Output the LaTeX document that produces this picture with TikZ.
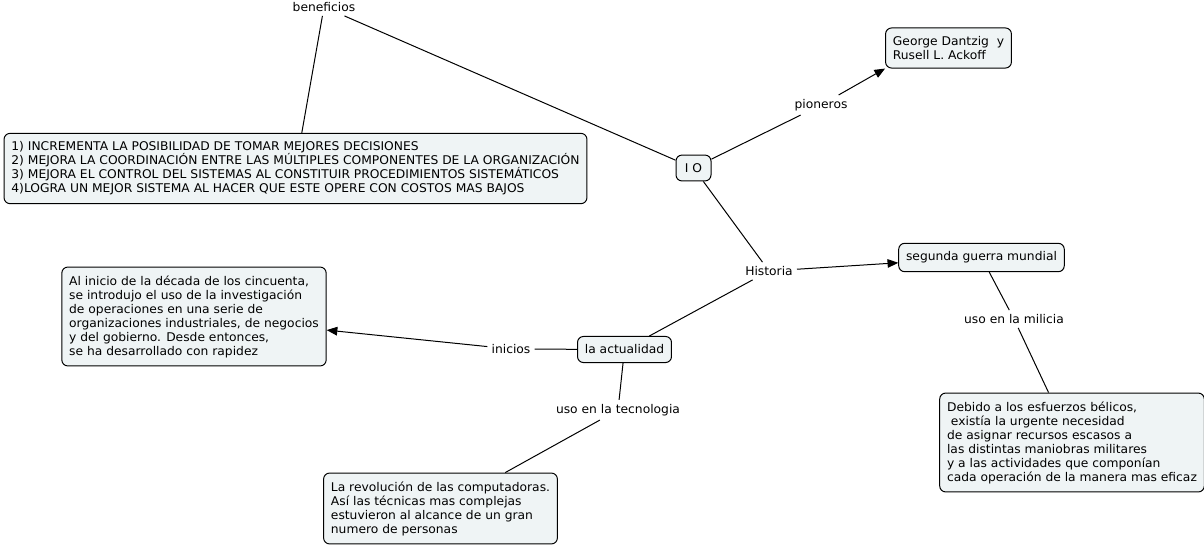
\documentclass[tikz,border=0pt]{standalone}
\usepackage{fontspec}
\setmainfont{DejaVu Sans}[FakeStretch=1.025]
\usetikzlibrary{arrows.meta}
\definecolor{boxfill}{RGB}{239,244,245}
\begin{document}
\begin{tikzpicture}[x=0.75pt,y=-0.75pt,
  every node/.style={font=\fontsize{9pt}{10.5pt}\selectfont},
  cbox/.style={draw=black, line width=0.75pt, fill=boxfill, rounded corners=4.5pt, align=left, inner xsep=5.5pt, inner ysep=6.3pt},
  lbl/.style={inner sep=3pt},
  conn/.style={line width=0.75pt},
  arr/.style={conn, -{Triangle[length=8pt,width=6.5pt]}}]
\fill[white] (0,0) rectangle (1204,547);
\useasboundingbox (0,0) rectangle (1204,547);

\node[lbl] (bene) at (324,7) {beneficios};
\node[cbox] (benbox) at (295.5,168.5) {1) INCREMENTA LA POSIBILIDAD DE TOMAR MEJORES DECISIONES\\2) MEJORA LA COORDINACIÓN ENTRE LAS MÚLTIPLES COMPONENTES DE LA ORGANIZACIÓN\\3) MEJORA EL CONTROL DEL SISTEMAS AL CONSTITUIR PROCEDIMIENTOS SISTEMÁTICOS\\4)LOGRA UN MEJOR SISTEMA AL HACER QUE ESTE OPERE CON COSTOS MAS BAJOS};
\node[cbox, minimum width=26.25pt] (io) at (693.5,168) {I O};
\node[lbl] (pion) at (821,105) {pioneros};
\node[cbox] (george) at (948.5,48) {George Dantzig\ \ y\\Rusell L. Ackoff};
\node[lbl] (hist) at (769,271) {Historia};
\node[cbox] (sgm) at (981.5,257.5) {segunda guerra mundial};
\node[lbl] (mil) at (1014,319) {uso en la milicia};
\node[cbox] (debido) at (1072,442.5) {Debido a los esfuerzos bélicos,\\\ existía la urgente necesidad\\de asignar recursos escasos a\\las distintas maniobras militares\\y a las actividades que componían\\cada operación de la manera mas eficaz};
\node[cbox] (act) at (624.5,349.5) {la actualidad};
\node[lbl] (ini) at (511,349) {inicios};
\node[cbox] (alini) at (194,316.5) {Al inicio de la década de los cincuenta,\\se introdujo el uso de la investigación\\de operaciones en una serie de\\organizaciones industriales, de negocios\\y del gobierno. Desde entonces,\\se ha desarrollado con rapidez};
\node[lbl] (tec) at (618,410) {uso en la tecnologia};
\node[cbox] (rev) at (440.5,508.5) {La revolución de las computadoras.\\Así las técnicas mas complejas\\estuvieron al alcance de un gran\\numero de personas};

\draw[conn] (bene) -- (benbox);
\draw[conn] (bene) -- (io);
\draw[conn] (io) -- (pion);
\draw[arr] (pion) -- (george.south west);
\draw[conn] (io) -- (hist);
\draw[arr] (hist) -- (sgm);
\draw[conn] (sgm) -- (mil);
\draw[conn] (mil) -- (debido);
\draw[conn] (hist) -- (act);
\draw[conn] (act) -- (ini);
\draw[arr] (ini) -- (alini);
\draw[conn] (act) -- (tec);
\draw[conn] (tec) -- (rev);
\end{tikzpicture}
\end{document}
